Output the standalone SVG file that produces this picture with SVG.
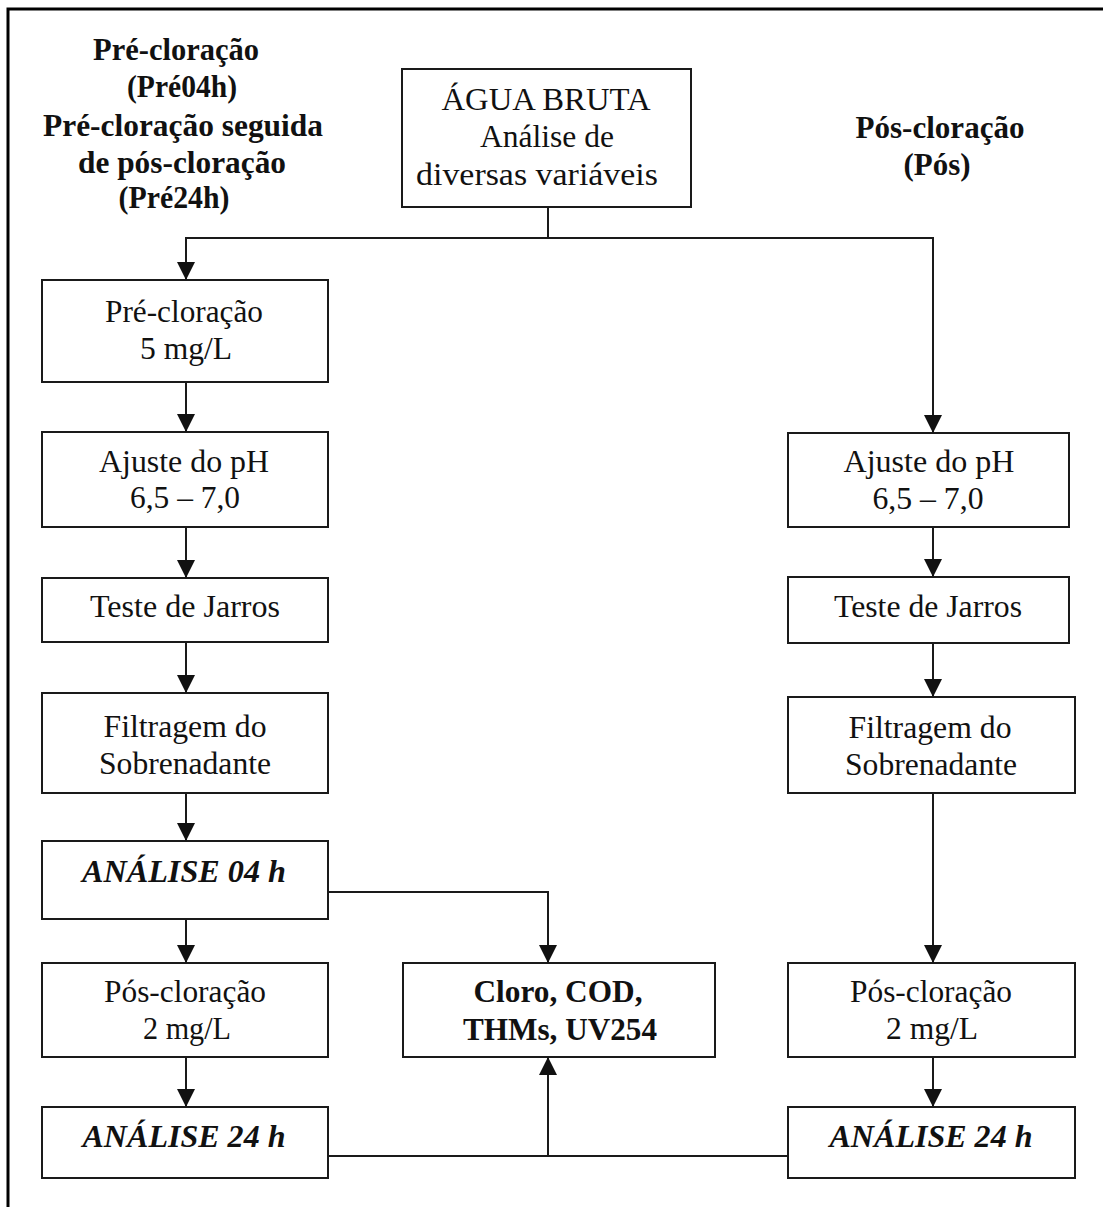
<svg xmlns="http://www.w3.org/2000/svg" width="1103" height="1207" viewBox="0 0 1103 1207">
<defs>
<marker id="ah" markerUnits="userSpaceOnUse" markerWidth="18" markerHeight="18" viewBox="0 0 18 18" refX="18" refY="9" orient="auto">
<path d="M0,0 L18,9 L0,18 z" fill="#111"/>
</marker>
</defs>
<style>
.box{fill:#fff;stroke:#1a1a1a;stroke-width:2}
.t{font-family:"Liberation Serif","Times New Roman",serif;font-size:31px;fill:#111;text-anchor:middle}
.h{font-weight:bold;font-size:31px}
.bi{font-weight:bold;font-style:italic}
.b{font-weight:bold}
.c{fill:none;stroke:#1a1a1a;stroke-width:2}
.a{marker-end:url(#ah)}
</style>
<rect x="0" y="0" width="1103" height="1207" fill="#fff"/>
<path d="M8,1207 V9 H1103" fill="none" stroke="#000" stroke-width="3"/>

<g id="heading-left">
<text class="t h" x="176" y="60" textLength="166" lengthAdjust="spacingAndGlyphs">Pré-cloração</text>
<text class="t h" x="182" y="97" textLength="110" lengthAdjust="spacingAndGlyphs">(Pré04h)</text>
<text class="t h" x="183" y="136" textLength="280" lengthAdjust="spacingAndGlyphs">Pré-cloração seguida</text>
<text class="t h" x="182" y="173" textLength="208" lengthAdjust="spacingAndGlyphs">de pós-cloração</text>
<text class="t h" x="174" y="208" textLength="111" lengthAdjust="spacingAndGlyphs">(Pré24h)</text>
</g>
<g id="heading-right">
<text class="t h" x="940" y="138" textLength="169" lengthAdjust="spacingAndGlyphs">Pós-cloração</text>
<text class="t h" x="937" y="175" textLength="67" lengthAdjust="spacingAndGlyphs">(Pós)</text>
</g>

<g id="agua-bruta">
<rect class="box" x="402" y="69" width="289" height="138"/>
<text class="t" x="546" y="110" textLength="209" lengthAdjust="spacingAndGlyphs">ÁGUA BRUTA</text>
<text class="t" x="547" y="147" textLength="134" lengthAdjust="spacingAndGlyphs">Análise de</text>
<text class="t" x="537" y="185" textLength="242" lengthAdjust="spacingAndGlyphs">diversas variáveis</text>
</g>

<g id="pre-cloracao">
<rect class="box" x="42" y="280" width="286" height="102"/>
<text class="t" x="184" y="322" textLength="158" lengthAdjust="spacingAndGlyphs">Pré-cloração</text>
<text class="t" x="186" y="359" textLength="92" lengthAdjust="spacingAndGlyphs">5 mg/L</text>
</g>
<g id="ajuste-l">
<rect class="box" x="42" y="432" width="286" height="95"/>
<text class="t" x="184" y="472" textLength="170" lengthAdjust="spacingAndGlyphs">Ajuste do pH</text>
<text class="t" x="185" y="508" textLength="110" lengthAdjust="spacingAndGlyphs">6,5 – 7,0</text>
</g>
<g id="teste-l">
<rect class="box" x="42" y="578" width="286" height="64"/>
<text class="t" x="185" y="617" textLength="190" lengthAdjust="spacingAndGlyphs">Teste de Jarros</text>
</g>
<g id="filtragem-l">
<rect class="box" x="42" y="693" width="286" height="100"/>
<text class="t" x="185" y="737" textLength="163" lengthAdjust="spacingAndGlyphs">Filtragem do</text>
<text class="t" x="185" y="774" textLength="172" lengthAdjust="spacingAndGlyphs">Sobrenadante</text>
</g>
<g id="analise04">
<rect class="box" x="42" y="841" width="286" height="78"/>
<text class="t bi" x="184" y="882" textLength="204" lengthAdjust="spacingAndGlyphs">ANÁLISE 04 h</text>
</g>
<g id="pos-l">
<rect class="box" x="42" y="963" width="286" height="94"/>
<text class="t" x="185" y="1002" textLength="162" lengthAdjust="spacingAndGlyphs">Pós-cloração</text>
<text class="t" x="187" y="1039" textLength="88" lengthAdjust="spacingAndGlyphs">2 mg/L</text>
</g>
<g id="analise24-l">
<rect class="box" x="42" y="1107" width="286" height="71"/>
<text class="t bi" x="184" y="1147" textLength="203" lengthAdjust="spacingAndGlyphs">ANÁLISE 24 h</text>
</g>

<g id="cloro">
<rect class="box" x="403" y="963" width="312" height="94"/>
<text class="t b" x="558" y="1002" textLength="169" lengthAdjust="spacingAndGlyphs">Cloro, COD,</text>
<text class="t b" x="560" y="1040" textLength="194" lengthAdjust="spacingAndGlyphs">THMs, UV254</text>
</g>

<g id="ajuste-r">
<rect class="box" x="788" y="433" width="281" height="94"/>
<text class="t" x="929" y="472" textLength="171" lengthAdjust="spacingAndGlyphs">Ajuste do pH</text>
<text class="t" x="928" y="509" textLength="111" lengthAdjust="spacingAndGlyphs">6,5 – 7,0</text>
</g>
<g id="teste-r">
<rect class="box" x="788" y="577" width="281" height="66"/>
<text class="t" x="928" y="617" textLength="188" lengthAdjust="spacingAndGlyphs">Teste de Jarros</text>
</g>
<g id="filtragem-r">
<rect class="box" x="788" y="697" width="287" height="96"/>
<text class="t" x="930" y="738" textLength="163" lengthAdjust="spacingAndGlyphs">Filtragem do</text>
<text class="t" x="931" y="775" textLength="172" lengthAdjust="spacingAndGlyphs">Sobrenadante</text>
</g>
<g id="pos-r">
<rect class="box" x="788" y="963" width="287" height="94"/>
<text class="t" x="931" y="1002" textLength="162" lengthAdjust="spacingAndGlyphs">Pós-cloração</text>
<text class="t" x="932" y="1039" textLength="92" lengthAdjust="spacingAndGlyphs">2 mg/L</text>
</g>
<g id="analise24-r">
<rect class="box" x="788" y="1107" width="287" height="71"/>
<text class="t bi" x="931" y="1147" textLength="203" lengthAdjust="spacingAndGlyphs">ANÁLISE 24 h</text>
</g>

<g id="connectors">
<path class="c" d="M548,207 V238"/>
<path class="c a" d="M548,238 H186 V280"/>
<path class="c a" d="M548,238 H933 V433"/>
<path class="c a" d="M186,382 V432"/>
<path class="c a" d="M186,527 V578"/>
<path class="c a" d="M186,642 V693"/>
<path class="c a" d="M186,793 V841"/>
<path class="c a" d="M186,919 V963"/>
<path class="c a" d="M186,1057 V1107"/>
<path class="c a" d="M328,892 H548 V963"/>
<path class="c" d="M328,1156 H788"/>
<path class="c a" d="M548,1156 V1057"/>
<path class="c a" d="M933,527 V577"/>
<path class="c a" d="M933,643 V697"/>
<path class="c a" d="M933,793 V963"/>
<path class="c a" d="M933,1057 V1107"/>
</g>
</svg>
